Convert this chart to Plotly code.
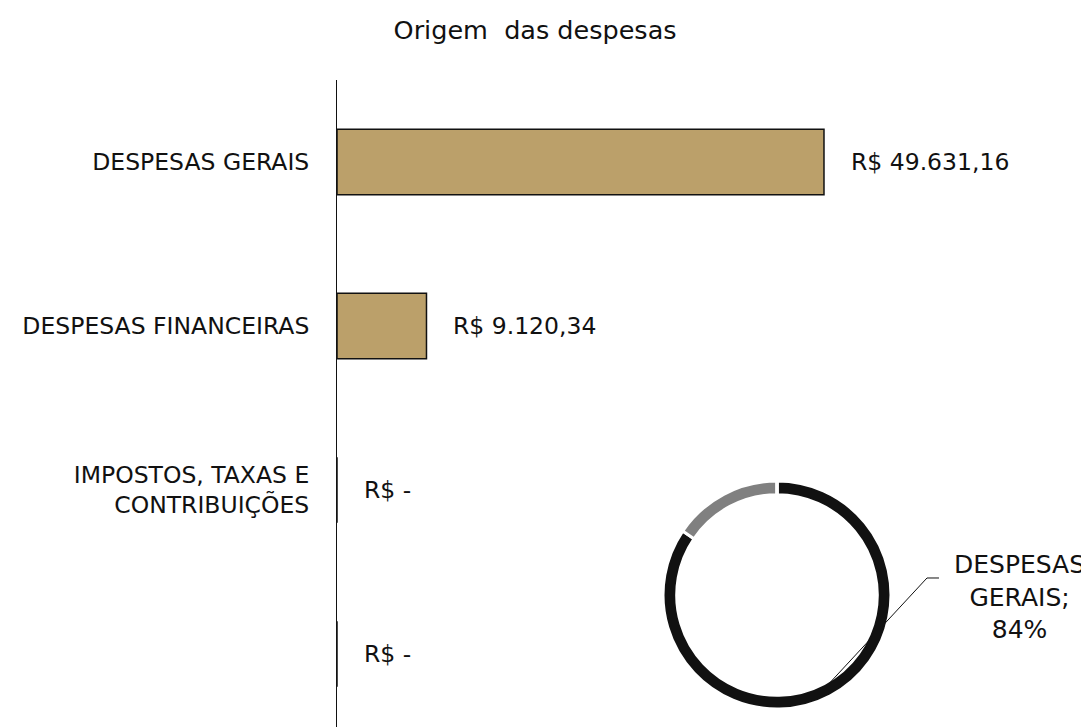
import plotly.graph_objects as go

categorias = ["DESPESAS GERAIS", "DESPESAS FINANCEIRAS", "IMPOSTOS, TAXAS E<br>CONTRIBUIÇÕES", " "]
valores = [49631.16, 9120.34, 0.0, 0.0]
rotulos = ["R$ 49.631,16", "R$ 9.120,34", "R$ -", "R$ -"]

pizza_labels = ["DESPESAS GERAIS", "DESPESAS FINANCEIRAS", "IMPOSTOS, TAXAS E CONTRIBUIÇÕES", "OUTROS"]
pizza_valores = valores
pizza_cores = ["#111111", "#808080", "#BBA06A", "#D9D9D9"]

FONTE = "'DejaVu Sans', sans-serif"
COR_BARRA = "#BBA06A"
PRETO = "#111111"

fig = go.Figure()

fig.add_trace(go.Bar(
    x=valores,
    y=categorias,
    orientation="h",
    width=0.4,
    marker=dict(color=COR_BARRA, line=dict(color=PRETO, width=1.5)),
    hoverinfo="x+y",
    showlegend=False,
))

for cat, val, txt in zip(categorias, valores, rotulos):
    fig.add_annotation(
        x=val, y=cat, xref="x", yref="y",
        text=txt, showarrow=False,
        xanchor="left", yanchor="middle", xshift=25,
        font=dict(family=FONTE, size=23.5, color=PRETO),
    )

total = sum(pizza_valores)
pct = pizza_valores[0] / total * 100

fig.add_trace(go.Pie(
    labels=pizza_labels,
    values=pizza_valores,
    hole=0.88,
    sort=False,
    direction="clockwise",
    rotation=0,
    marker=dict(colors=pizza_cores, line=dict(color="white", width=3)),
    textinfo="none",
    domain=dict(x=[0.4290, 0.7289], y=[0.0397, 0.3877]),
    showlegend=False,
))

# rótulo da fatia principal com linha de chamada
fig.add_annotation(
    x=0.8974, y=0.2107, xref="paper", yref="paper",
    text=f"DESPESAS<br>GERAIS;<br>{pct:.0f}%",
    showarrow=False, xanchor="center", yanchor="middle",
    font=dict(family=FONTE, size=25, color=PRETO),
)
fig.add_shape(type="line", xref="paper", yref="paper",
              x0=0.7921, y0=0.2397, x1=0.7763, y1=0.2397,
              line=dict(color=PRETO, width=1))
fig.add_shape(type="line", xref="paper", yref="paper",
              x0=0.7763, y0=0.2397, x1=0.6421, y1=0.0718,
              line=dict(color=PRETO, width=1))

fig.update_layout(
    width=1089,
    height=727,
    plot_bgcolor="white",
    paper_bgcolor="white",
    font=dict(family=FONTE, size=23, color=PRETO),
    margin=dict(l=329, r=0, t=72, b=0),
    title=dict(
        text="Origem  das despesas",
        x=0.484, xref="container", xanchor="center",
        y=0.97, yref="container", yanchor="middle",
        font=dict(family=FONTE, size=25.5, color=PRETO),
    ),
    xaxis=dict(range=[0, 77455], visible=False, showgrid=False, zeroline=False),
    yaxis=dict(
        range=[3.494, -0.5],
        showline=True, linecolor=PRETO, linewidth=1,
        showgrid=False, zeroline=False,
        ticks="", ticklabelstandoff=22,
        tickfont=dict(family=FONTE, size=23.5, color=PRETO),
    ),
)

fig.write_html("out.html")
